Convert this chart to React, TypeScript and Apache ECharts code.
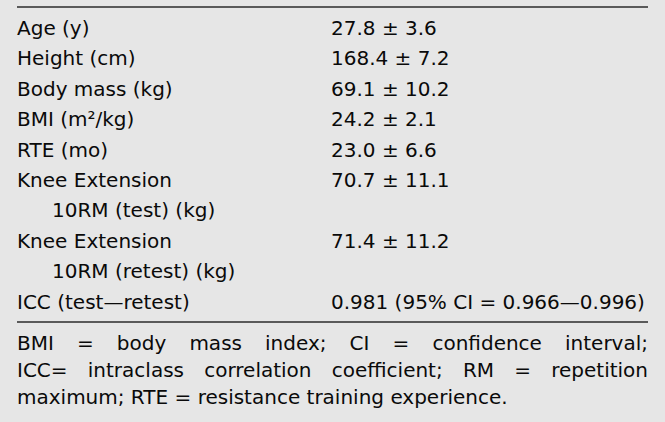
import React, { useEffect, useRef } from "react";
import * as echarts from "echarts";

// ---- data ----
const labelLines: string[][] = [
  ["Age (y)"],
  ["Height (cm)"],
  ["Body mass (kg)"],
  ["BMI (m²/kg)"],
  ["RTE (mo)"],
  ["Knee Extension", "10RM (test) (kg)"],
  ["Knee Extension", "10RM (retest) (kg)"],
];
const means = [27.8, 168.4, 69.1, 24.2, 23.0, 70.7, 71.4];
const sds = [3.6, 7.2, 10.2, 2.1, 6.6, 11.1, 11.2];
const iccLabel = "ICC (test—retest)";
const iccValue = 0.981;
const iccLow = 0.966;
const iccHigh = 0.996;
const footLine1 = ["BMI", "=", "body", "mass", "index;", "CI", "=", "confidence", "interval;"];
const footLine2 = ["ICC=", "intraclass", "correlation", "coefficient;", "RM", "=", "repetition"];
const footLine3 = "maximum; RTE = resistance training experience.";

const FONT_FAMILY = "'DejaVu Sans', sans-serif";
const FONT_SIZE = 20;
const COLOR = "#0a0a0a";

function measure(text: string): number {
  const c = document.createElement("canvas");
  const ctx = c.getContext("2d");
  if (!ctx) return text.length * FONT_SIZE * 0.6;
  ctx.font = `${FONT_SIZE}px 'DejaVu Sans'`;
  return ctx.measureText(text).width;
}

export default function App() {
  const ref = useRef<HTMLDivElement>(null);
  useEffect(() => {
    if (!ref.current) return;
    const chart = echarts.init(ref.current, undefined, { renderer: "svg" });
    const left = 17;
    const right = 648;
    const valX = 331;
    const indent = 52;
    const rowTop = 28;
    const rowStep = 30.4;
    const elements: any[] = [];
    const txt = (text: string, x: number, y: number) => ({
      type: "text",
      x,
      y,
      style: {
        text,
        fontSize: FONT_SIZE,
        fontFamily: FONT_FAMILY,
        fill: COLOR,
        align: "left",
        verticalAlign: "middle",
      },
    });
    elements.push({
      type: "line",
      shape: { x1: left, y1: 7, x2: right, y2: 7 },
      style: { stroke: "#2b2b2b", lineWidth: 1.6 },
    });
    let line = 0;
    labelLines.forEach((lines, i) => {
      const y0 = rowTop + line * rowStep;
      lines.forEach((l, j) => {
        elements.push(txt(l, j === 0 ? left : indent, rowTop + (line + j) * rowStep));
      });
      elements.push(txt(`${means[i].toFixed(1)} ± ${sds[i].toFixed(1)}`, valX, y0));
      line += lines.length;
    });
    const yIcc = rowTop + line * rowStep;
    elements.push(txt(iccLabel, left, yIcc));
    elements.push(
      txt(`${iccValue.toFixed(3)} (95% CI = ${iccLow.toFixed(3)}—${iccHigh.toFixed(3)})`, valX, yIcc)
    );
    elements.push({
      type: "line",
      shape: { x1: left, y1: 322, x2: right, y2: 322 },
      style: { stroke: "#2b2b2b", lineWidth: 1.6 },
    });
    const justify = (words: string[], y: number) => {
      const widths = words.map(measure);
      const total = widths.reduce((a, b) => a + b, 0);
      const gap = (right - left - total) / (words.length - 1);
      let x = left;
      words.forEach((w, k) => {
        elements.push(txt(w, x, y));
        x += widths[k] + gap;
      });
    };
    justify(footLine1, 343);
    justify(footLine2, 370);
    elements.push(txt(footLine3, left, 397));

    chart.setOption({
      animation: false,
      backgroundColor: "#e6e6e6",
      graphic: { elements },
    });
    return () => chart.dispose();
  }, []);
  return (
    <div
      ref={ref}
      style={{ position: "fixed", left: 0, top: 0, width: 665, height: 422 }}
    />
  );
}
